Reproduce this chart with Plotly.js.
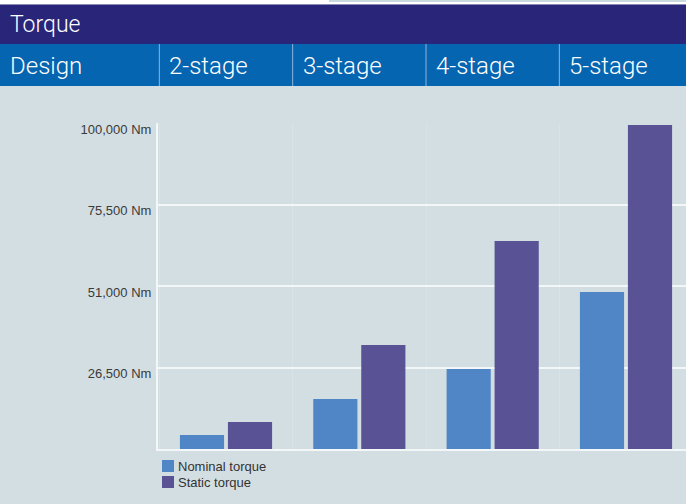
<!DOCTYPE html>
<html>
<head>
<meta charset="utf-8">
<script src="https://cdn.plot.ly/plotly-3.0.1.min.js"></script>
<style>html,body{margin:0;padding:0;background:#d3dee2;}#chart{width:686px;height:504px;}</style>
</head>
<body>
<div id="chart"></div>
<script>
const categories = ['2-stage', '3-stage', '4-stage', '5-stage'];
const nominalTorque = [6200, 17000, 26050, 49200];
const staticTorque = [10100, 33260, 64500, 99400];
const tickValues = [26500, 51000, 75500, 100000];
const tickLabels = ['26,500 Nm', '51,000 Nm', '75,500 Nm', '100,000 Nm'];
const headerTitle = 'Torque';
const rowTitle = 'Design';
const seriesNames = ['Nominal torque', 'Static torque'];
const seriesColors = ['#5186c6', '#595396'];

const W = 686, H = 504;
const M = {l: 158, r: 0, t: 123, b: 55};
const PW = W - M.l - M.r, PH = H - M.t - M.b;
const px = x => (x - M.l) / PW;
const py = y => (H - M.b - y) / PH;

const font = 'Liberation Sans, Arial, sans-serif';
const headFont = 'Roboto, Liberation Sans, sans-serif';

const traces = [
  {type: 'bar', name: seriesNames[0], x: categories, y: nominalTorque,
   marker: {color: seriesColors[0], line: {width: 0}}, hoverinfo: 'none', showlegend: false},
  {type: 'bar', name: seriesNames[1], x: categories, y: staticTorque,
   marker: {color: seriesColors[1], line: {width: 0}}, hoverinfo: 'none', showlegend: false}
];

const shapes = [
  {type: 'rect', xref: 'paper', yref: 'paper', x0: px(0), x1: px(W), y0: py(0), y1: py(4.5),
   fillcolor: '#ffffff', line: {width: 0}, layer: 'below'},
  {type: 'line', xref: 'paper', yref: 'paper', x0: px(329), x1: px(W), y0: py(1), y1: py(1),
   line: {color: '#c9d9e0', width: 2}},
  {type: 'rect', xref: 'paper', yref: 'paper', x0: px(0), x1: px(W), y0: py(4.5), y1: py(44),
   fillcolor: '#29267a', line: {width: 0}},
  {type: 'rect', xref: 'paper', yref: 'paper', x0: px(0), x1: px(W), y0: py(44), y1: py(86),
   fillcolor: '#0665b1', line: {width: 0}}
];
categories.forEach((c, i) => {
  shapes.push({type: 'line', xref: 'x', yref: 'paper', x0: i - 0.5, x1: i - 0.5, y0: py(44), y1: py(86),
    line: {color: '#8fb4d9', width: 1}});
});

const annotations = [
  {text: headerTitle, xref: 'paper', yref: 'paper', x: px(8), y: py(25), xanchor: 'left', yanchor: 'middle',
   showarrow: false, font: {family: headFont, size: 23, weight: 300, color: '#ffffff'}},
  {text: rowTitle, xref: 'paper', yref: 'paper', x: px(8), y: py(66), xanchor: 'left', yanchor: 'middle',
   showarrow: false, font: {family: headFont, size: 24, weight: 300, color: '#ffffff'}}
];
categories.forEach((c, i) => {
  annotations.push({text: c, xref: 'x', yref: 'paper', x: i - 0.5, xshift: 8, y: py(66),
    xanchor: 'left', yanchor: 'middle', showarrow: false,
    font: {family: headFont, size: 24, weight: 300, color: '#ffffff'}});
});

// legend drawn as swatches + labels
const legendTop = [460, 476];
seriesNames.forEach((n, i) => {
  shapes.push({type: 'rect', xref: 'paper', yref: 'paper', x0: px(162), x1: px(174),
    y0: py(legendTop[i]), y1: py(legendTop[i] + 12), fillcolor: seriesColors[i], line: {width: 0}});
  annotations.push({text: n, xref: 'paper', yref: 'paper', x: px(176), y: py(legendTop[i] + 6.5),
    xanchor: 'left', yanchor: 'middle', showarrow: false,
    font: {family: font, size: 13, color: '#333333'}});
});

const layout = {
  width: W, height: H,
  margin: M,
  paper_bgcolor: '#d3dee2',
  plot_bgcolor: '#d3dee2',
  font: {family: font, size: 12, color: '#3a3a3a'},
  barmode: 'group',
  bargap: 0.28,
  bargroupgap: 0.08,
  showlegend: false,
  xaxis: {type: 'category', range: [-0.51, 3.45], showticklabels: false, ticks: '',
    tickson: 'boundaries', showgrid: true, gridcolor: '#d9e3e6', gridwidth: 1,
    showline: true, linecolor: '#f4f7f8', linewidth: 2, zeroline: false, fixedrange: true},
  yaxis: {range: [2000, 100000], tickvals: tickValues, ticktext: tickLabels, ticks: '',
    showgrid: true, gridcolor: '#f4f7f8', gridwidth: 2, showline: true, linecolor: '#f4f7f8', linewidth: 2,
    zeroline: false, ticklabelshift: 6, ticklabelstandoff: 2,
    tickfont: {family: font, size: 13, color: '#3a3a3a'}, fixedrange: true},
  shapes: shapes,
  annotations: annotations
};

Plotly.newPlot('chart', traces, layout, {displayModeBar: false, staticPlot: true});
</script>
</body>
</html>
